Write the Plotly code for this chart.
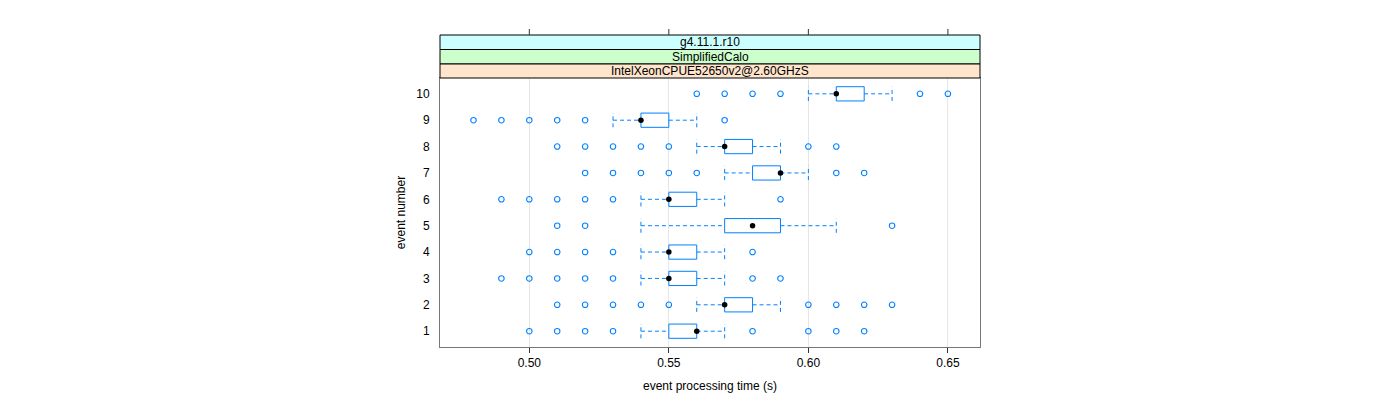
import plotly.graph_objects as go

# ---------------- data ----------------
events = [1, 2, 3, 4, 5, 6, 7, 8, 9, 10]
lower_whisker = [0.54, 0.56, 0.54, 0.54, 0.54, 0.54, 0.57, 0.56, 0.53, 0.60]
q1 = [0.55, 0.57, 0.55, 0.55, 0.57, 0.55, 0.58, 0.57, 0.54, 0.61]
median = [0.56, 0.57, 0.55, 0.55, 0.58, 0.55, 0.59, 0.57, 0.54, 0.61]
q3 = [0.56, 0.58, 0.56, 0.56, 0.59, 0.56, 0.59, 0.58, 0.55, 0.62]
upper_whisker = [0.57, 0.59, 0.57, 0.57, 0.61, 0.57, 0.60, 0.59, 0.56, 0.63]
outliers = [
    [0.50, 0.51, 0.52, 0.53, 0.58, 0.60, 0.61, 0.62],
    [0.51, 0.52, 0.53, 0.54, 0.55, 0.60, 0.61, 0.62, 0.63],
    [0.49, 0.50, 0.51, 0.52, 0.53, 0.58, 0.59],
    [0.50, 0.51, 0.52, 0.53, 0.58],
    [0.51, 0.52, 0.63],
    [0.49, 0.50, 0.51, 0.52, 0.53, 0.59],
    [0.52, 0.53, 0.54, 0.55, 0.56, 0.61, 0.62],
    [0.51, 0.52, 0.53, 0.54, 0.55, 0.60, 0.61],
    [0.48, 0.49, 0.50, 0.51, 0.52, 0.57],
    [0.56, 0.57, 0.58, 0.59, 0.64, 0.65],
]
x_ticks = [0.50, 0.55, 0.60, 0.65]
x_tick_labels = ["0.50", "0.55", "0.60", "0.65"]
strip_labels = ["g4.11.1.r10", "SimplifiedCalo", "IntelXeonCPUE52650v2@2.60GHzS"]
strip_colors = ["#ccffff", "#ccffcc", "#ffe5cc"]

BLUE = "#0080ff"
HALF = 0.27
FONT = "Liberation Sans, Arial, sans-serif"

# ---------------- traces ----------------
bx, by = [], []
wx, wy = [], []
for e, lw, a, b, uw in zip(events, lower_whisker, q1, q3, upper_whisker):
    bx += [a, b, b, a, a, None]
    by += [e - HALF, e - HALF, e + HALF, e + HALF, e - HALF, None]
    wx += [lw, a, None, b, uw, None, lw, lw, None, uw, uw, None]
    wy += [e, e, None, e, e, None, e - HALF, e + HALF, None, e - HALF, e + HALF, None]

ox, oy = [], []
for e, outs in zip(events, outliers):
    ox += outs
    oy += [e] * len(outs)

fig = go.Figure()
fig.add_trace(go.Scatter(x=wx, y=wy, mode="lines",
                         line=dict(color=BLUE, width=1, dash="4px,3px"),
                         hoverinfo="skip", showlegend=False))
fig.add_trace(go.Scatter(x=bx, y=by, mode="lines",
                         line=dict(color=BLUE, width=1),
                         hoverinfo="skip", showlegend=False))
fig.add_trace(go.Scatter(x=ox, y=oy, mode="markers",
                         marker=dict(symbol="circle-open", size=5.5,
                                     color=BLUE, line=dict(width=1.1, color=BLUE)),
                         showlegend=False))
fig.add_trace(go.Scatter(x=median, y=events, mode="markers",
                         marker=dict(symbol="circle", size=5.5, color="black"),
                         showlegend=False))

# ---------------- layout geometry ----------------
# page body has an 8px margin: screen coords = figure coords + 8
OFF = 8
W, H = 1400, 400
L, R = 440 - OFF, 980 - OFF
T, B = 78 - OFF, 347 - OFF
plot_h = B - T


def py(screen_pix):
    return (B - (screen_pix - OFF)) / plot_h


shapes = []
annotations = []
strip_edges = [35, 49.5, 64, 78]
for i, (lab, col) in enumerate(zip(strip_labels, strip_colors)):
    y0, y1 = py(strip_edges[i + 1]), py(strip_edges[i])
    shapes.append(dict(type="rect", xref="paper", yref="paper", x0=0, x1=1,
                       y0=y0, y1=y1, fillcolor=col,
                       line=dict(color="black", width=1), layer="above"))
    annotations.append(dict(text=lab, xref="paper", yref="paper", x=0.5,
                            y=(y0 + y1) / 2, showarrow=False,
                            font=dict(size=12, color="black", family=FONT),
                            xanchor="center", yanchor="middle"))
# top ticks above strips
for tv in x_ticks:
    shapes.append(dict(type="line", xref="x", yref="paper", x0=tv, x1=tv,
                       y0=py(35), y1=py(29), line=dict(color="#333333", width=1)))

fig.update_layout(
    width=W, height=H,
    margin=dict(l=L, r=W - R, t=T, b=H - B, pad=0),
    paper_bgcolor="white", plot_bgcolor="white",
    font=dict(family=FONT, size=12, color="black"),
    shapes=shapes, annotations=annotations,
    xaxis=dict(range=[0.468, 0.6615], tickvals=x_ticks, ticktext=x_tick_labels,
               showgrid=True, gridcolor="#e6e6e6", gridwidth=1,
               ticks="outside", ticklen=5, tickcolor="#333333",
               showline=True, linecolor="#777777", mirror=True, linewidth=1,
               zeroline=False,
               title=dict(text="event processing time (s)", standoff=12,
                          font=dict(size=12)),
               tickfont=dict(size=12)),
    yaxis=dict(range=[0.4, 10.6], tickvals=events,
               ticktext=[str(e) for e in events],
               showgrid=False, zeroline=False,
               ticks="outside", ticklen=7, tickcolor="rgba(0,0,0,0)",
               showline=True, linecolor="#777777", mirror=True, linewidth=1,
               title=dict(text="event number", standoff=8, font=dict(size=12)),
               tickfont=dict(size=12)),
)

fig.write_html("out.html")
